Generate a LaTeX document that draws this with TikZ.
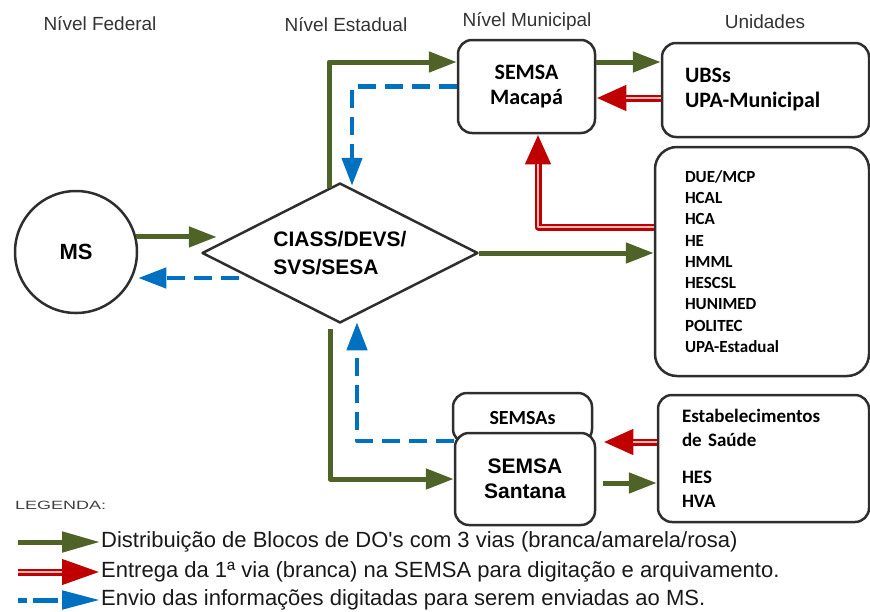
\documentclass[tikz,border=0pt]{standalone}
\usepackage{fontspec}
\usepackage{graphicx}
\setmainfont{Liberation Sans}
\newfontfamily\carlito{Carlito}
\usetikzlibrary{shapes.geometric, arrows.meta, positioning}
\definecolor{verde}{HTML}{4F6228}
\definecolor{azul}{HTML}{0070C0}
\definecolor{verm}{HTML}{C00000}
\definecolor{rosa}{HTML}{EDB8B8}
\definecolor{borda}{HTML}{2E2E2E}
\tikzset{
	hdr/.style={font=\fontsize{19}{22}\selectfont, text=black!80},
	caixa/.style={draw=borda, line width=2.5pt, rounded corners=14pt, fill=white, inner sep=0pt},
	garr/.style={draw=verde, line width=5pt, -{Triangle[length=#1, width=20pt]}},
	garr/.default=28pt,
	barr/.style={draw=azul, line width=4.5pt, dash pattern=on 18pt off 9pt, -{Triangle[length=28pt, width=20pt]}},
	rarr/.style={draw=verm, line width=7pt, -{Triangle[length=#1, width=24pt]},
		postaction={draw=rosa, line width=2.5pt, shorten >=#1, arrows=-}},
	rarr/.default=30pt,
	leg/.style={anchor=west, font=\fontsize{22}{26}\selectfont, text=black!90, inner sep=1pt},
}
\begin{document}
\begin{tikzpicture}[x=1pt, y=-1pt, line join=round]
	\useasboundingbox (0, 0) rectangle (870, 611);
	%見出し
	\path (100, 24) node [hdr] (hF) {Nível Federal};
	\path (346, 25) node [hdr] (hE) {Nível Estadual};
	\path (527, 21) node [hdr] (hM) {Nível Municipal};
	\path (765, 22) node [hdr] (hU) {Unidades};
	%ノード
	\path (76, 252) node [circle, draw=borda, line width=2.5pt, minimum size=122pt, inner sep=0pt,
		font=\fontsize{22}{26}\selectfont\bfseries] (MS) {MS};
	\path (340, 253) node [diamond, aspect=2, draw=borda, line width=2.5pt, minimum width=276pt,
		minimum height=140pt, inner sep=0pt, align=left,
		font=\fontsize{21}{28}\selectfont\bfseries] (CI) {CIASS/DEVS/\\SVS/SESA};
	\path (526.5, 86.5) node [caixa, minimum width=137pt, minimum height=93pt, align=center,
		font=\carlito\fontsize{22}{25}\selectfont\bfseries] (Mac) {SEMSA\\Macapá};
	\path (765.5, 90) node [caixa, text width=161pt, inner xsep=23pt, minimum height=94pt, align=left,
		font=\carlito\fontsize{22}{25}\selectfont\bfseries] (Ubs) {UBSs\\UPA-Municipal};
	\path (762, 261.5) node [caixa, rounded corners=22pt, text width=154pt, inner xsep=30pt,
		minimum height=229pt, align=left,
		font=\carlito\fontsize{17}{21.25}\selectfont\bfseries] (Est)
		{DUE/MCP\\HCAL\\HCA\\HE\\HMML\\HESCSL\\HUNIMED\\POLITEC\\UPA-Estadual};
	\path (522.5, 418) node [caixa, minimum width=139pt, minimum height=50pt,
		font=\carlito\fontsize{20}{24}\selectfont\bfseries] (Sms) {SEMSAs};
	\path (525, 479) node [caixa, minimum width=140pt, minimum height=92pt, align=center,
		font=\fontsize{21}{25}\selectfont\bfseries] (San) {SEMSA\\Santana};
	\path (763.5, 458.5) node [caixa, text width=163pt, inner xsep=24pt, minimum height=127pt,
		align=left, font=\carlito\fontsize{19}{24}\selectfont\bfseries] (Hes)
		{Estabelecimentos\\de Saúde\\[13pt]HES\\HVA};
	%座標
	\path (MS.14) coordinate (Ma);
	\path (CI.west)++(16, -16) coordinate (Cw);
	\path (CI.west)++(38, 25) coordinate (Cw2);
	\path (CI.north)++(-11, 6) coordinate (Cn);
	\path (CI.north)++(12, 4) coordinate (Cb);
	\path (CI.south)++(-10, 5) coordinate (Cs);
	\path (CI.south)++(17, -2) coordinate (Cb2);
	\path (San.east)++(7, 4) coordinate (Se);
	\path (San.east)++(7, -37) coordinate (Se2);
	%緑
	\draw[garr] (Ma)--(Ma -| Cw);
	\draw[garr] (Cn) |- ([yshift=24.5pt]Mac.west);
	\draw[garr] (CI.east)--(CI.east -| Est.west);
	\draw[garr] (Cs) |- (San.west);
	\draw[garr] ([yshift=24.5pt]Mac.east)--([yshift=24.5pt]Mac.east -| Ubs.west);
	\draw[garr] (Se)--(Se -| Hes.west);
	%青
	\draw[barr] (Mac.west) -| (Cb);
	\draw[barr] (Cw2)--(Cw2 -| MS.east);
	\draw[barr] ([yshift=-9pt]San.north west) -| (Cb2);
	%赤
	\draw[rarr] ([yshift=-8pt]Ubs.west)--([yshift=-8pt]Ubs.west -| Mac.east);
	\draw[rarr] ([yshift=34.5pt]Est.west) -| ([xshift=11.5pt]Mac.south);
	\draw[rarr] (Se2 -| Hes.west)--(Se2);
	%凡例
	\path (15, 505) node [anchor=west, inner sep=0pt, text=black!75,
		font=\fontsize{12}{14}\selectfont] (Lg) {\scalebox{1.5}[1]{LEGENDA:}};
	\path (18, 542) coordinate (L1);
	\path (100, 542) coordinate (L1t);
	\path (18, 572) coordinate (L2);
	\path (100, 572) coordinate (L2t);
	\path (18, 600) coordinate (L3);
	\path (100, 600) coordinate (L3t);
	\draw[garr=38pt] (L1)--(L1t);
	\draw[rarr=38pt] (L2)--(L2t);
	\draw[azul, line width=5pt, dash pattern=on 9pt off 6pt on 25pt off 60pt,
		-{Triangle[length=38pt, width=18pt]}] (L3)--(L3t);
	\path (L1t) node [leg] (T1) {Distribuição de Blocos de DO\textquotesingle s com 3 vias (branca/amarela/rosa)};
	\path (L2t) node [leg] (T2) {Entrega da 1ª via (branca) na SEMSA para digitação e arquivamento.};
	\path (L3t) node [leg] (T3) {Envio das informações digitadas para serem enviadas ao MS.};
\end{tikzpicture}
\end{document}
